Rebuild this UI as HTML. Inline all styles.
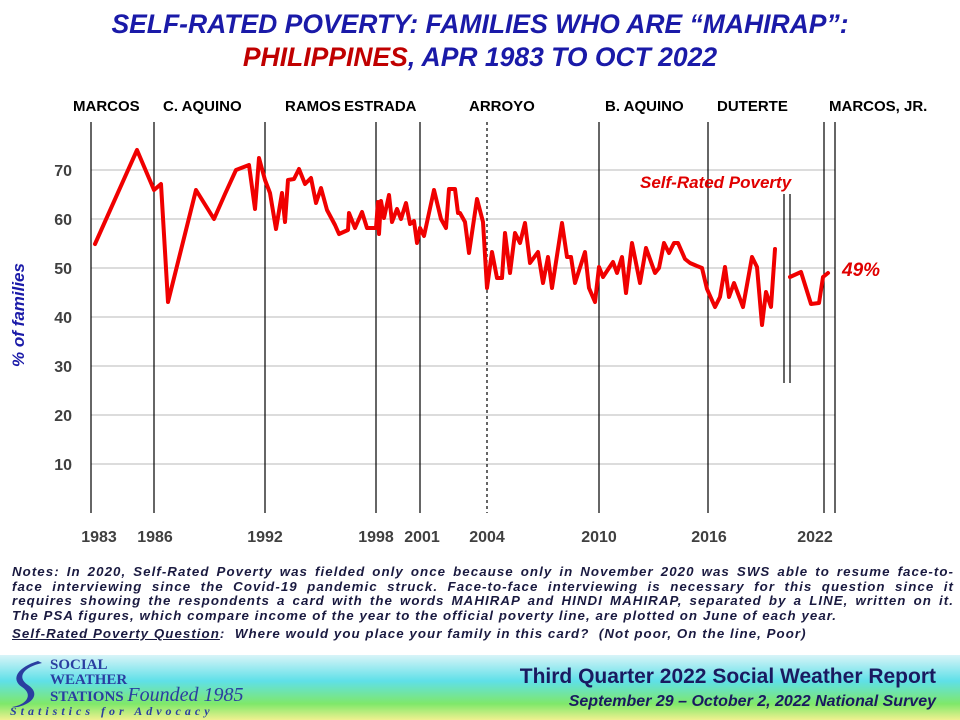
<!DOCTYPE html>
<html><head><meta charset="utf-8"><style>
body{margin:0;width:960px;height:720px;background:#fff;position:relative;overflow:hidden;font-family:"Liberation Sans",Arial,sans-serif}
.t{position:absolute;left:0;width:960px;text-align:center;font-weight:bold;font-style:italic;font-size:26.5px;color:#1a1aa8}
.era{position:absolute;top:98px;font-weight:bold;font-size:15px;color:#000}
.notes{position:absolute;left:12px;top:565px;width:942px;font-size:13.3px;letter-spacing:1.05px;font-weight:bold;font-style:italic;color:#1a1a40;line-height:14.5px}
.notes .j{display:block;white-space:nowrap;text-align:justify;text-align-last:justify}
.foot{position:absolute;left:0;top:655px;width:960px;height:65px;background:linear-gradient(#d8f4f8 0%,#5fe0e8 40%,#7fe86a 75%,#f0f090 100%)}
</style></head><body>
<div class="t" style="top:9px">SELF-RATED POVERTY: FAMILIES WHO ARE “MAHIRAP”:</div>
<div class="t" style="top:42px"><span style="color:#c00000">PHILIPPINES</span>, APR 1983 TO OCT 2022</div>
<div class="era" style="left:73px">MARCOS</div>
<div class="era" style="left:163px">C. AQUINO</div>
<div class="era" style="left:285px">RAMOS</div>
<div class="era" style="left:344px">ESTRADA</div>
<div class="era" style="left:469px">ARROYO</div>
<div class="era" style="left:605px">B. AQUINO</div>
<div class="era" style="left:717px">DUTERTE</div>
<div class="era" style="left:829px">MARCOS, JR.</div>
<svg width="960" height="560" style="position:absolute;left:0;top:0" font-family="Liberation Sans,Arial,sans-serif">
<g stroke="#d0d0d0" stroke-width="1.5">
<line x1="91" x2="835" y1="464" y2="464"/><line x1="91" x2="835" y1="415" y2="415"/><line x1="91" x2="835" y1="366" y2="366"/><line x1="91" x2="835" y1="317" y2="317"/><line x1="91" x2="835" y1="268" y2="268"/><line x1="91" x2="835" y1="219" y2="219"/><line x1="91" x2="835" y1="170" y2="170"/>
</g>
<g stroke="#000" stroke-width="1.2">
<line x1="91" x2="91" y1="122" y2="513"/><line x1="154" x2="154" y1="122" y2="513"/><line x1="265" x2="265" y1="122" y2="513"/><line x1="376" x2="376" y1="122" y2="513"/><line x1="420" x2="420" y1="122" y2="513"/><line x1="599" x2="599" y1="122" y2="513"/><line x1="708" x2="708" y1="122" y2="513"/><line x1="824" x2="824" y1="122" y2="513"/><line x1="835" x2="835" y1="122" y2="513"/>
<line x1="487" x2="487" y1="122" y2="513" stroke-dasharray="3,3"/>
<line x1="784" x2="784" y1="194" y2="383"/><line x1="790" x2="790" y1="194" y2="383"/>
</g>
<g font-size="16" font-weight="bold" fill="#404040" text-anchor="end">
<text x="72" y="470">10</text><text x="72" y="421">20</text><text x="72" y="372">30</text><text x="72" y="323">40</text><text x="72" y="274">50</text><text x="72" y="225">60</text><text x="72" y="176">70</text>
</g>
<g font-size="16" font-weight="bold" fill="#404040" text-anchor="middle">
<text x="99" y="542">1983</text><text x="155" y="542">1986</text><text x="265" y="542">1992</text><text x="376" y="542">1998</text><text x="422" y="542">2001</text><text x="487" y="542">2004</text><text x="599" y="542">2010</text><text x="709" y="542">2016</text><text x="815" y="542">2022</text>
</g>
<text transform="translate(24,315) rotate(-90)" text-anchor="middle" font-size="17" font-weight="bold" font-style="italic" fill="#1a1aa8">% of families</text>
<text x="640" y="188" font-size="17" font-weight="bold" font-style="italic" fill="#e00000">Self-Rated Poverty</text>
<text x="842" y="276" font-size="19" font-weight="bold" font-style="italic" fill="#e00000">49%</text>
<g fill="none" stroke="#f00000" stroke-width="4" stroke-linejoin="round" stroke-linecap="round">
<polyline points="95,244 137,150 154,190 161,184 168,302 196,190 214,219 225,194 236,170 249,165 255,209 259,158 265,180 270,193 276,229 282,193 285,222 288,180 294,179 299,169 305,184 311,178 316,203 321,188 327,210 335,225 339,234 348,230 349,213 355,228 362,212 367,228 373,228 376,228 378,202 379,234 381,201 384,218 389,195 392,222 397,209 401,219 406,203 410,224 414,221 417,243 420,228 424,236 434,190 441,219 446,228 449,189 455,189 458,213 460,213 465,222 469,253 477,199 483,222 487,288 492,252 497,278 502,278 505,233 510,273 515,233 520,243 525,223 530,263 538,252 543,283 548,257 552,288 562,223 567,257 571,257 575,283 585,252 589,288 595,302 599,267 603,277 613,262 617,273 622,257 626,293 632,243 640,283 646,248 655,273 659,268 664,243 669,253 674,243 678,243 685,259 690,263 697,266 702,268 707,289 715,307 720,297 725,267 729,297 734,283 743,307 752,257 757,267 762,325 766,292 771,307 775,249"/>
<polyline points="790,277 801,272 811,304 819,303 823,277 828,273"/>
</g>
</svg>
<div class="notes">
<span class="j">Notes: In 2020, Self-Rated Poverty was fielded only once because only in November 2020 was SWS able to resume face-to-</span>
<span class="j">face interviewing since the Covid-19 pandemic struck. Face-to-face interviewing is necessary for this question since it</span>
<span class="j">requires showing the respondents a card with the words MAHIRAP and HINDI MAHIRAP, separated by a LINE, written on it.</span>
<span style="display:block;white-space:nowrap">The PSA figures, which compare income of the year to the official poverty line, are plotted on June of each year.</span>
<span style="display:block;white-space:nowrap;margin-top:4px"><u>Self-Rated Poverty Question</u>:&nbsp; Where would you place your family in this card?&nbsp; (Not poor, On the line, Poor)</span></div>
<div class="foot">
<svg width="40" height="50" style="position:absolute;left:8px;top:4px"><path d="M30 2 C10 8 2 20 14 28 C26 36 18 46 4 48 L10 48 C26 44 32 34 20 26 C8 18 16 8 34 4 Z" fill="#2a3ea0"/></svg>
<div style="position:absolute;left:50px;top:3px;font-family:'Liberation Serif',serif;font-weight:bold;font-size:15px;line-height:15px;color:#2a3ea0">SOCIAL<br>WEATHER<br>STATIONS <i style="font-weight:normal;font-size:20px">Founded 1985</i></div>
<div style="position:absolute;left:10px;top:49px;font-family:'Liberation Serif',serif;font-style:italic;font-weight:bold;font-size:12px;letter-spacing:4px;color:#2a3ea0">Statistics for Advocacy</div>
<div style="position:absolute;right:24px;top:10px;font-weight:bold;font-size:21px;color:#1a1a60">Third Quarter 2022 Social Weather Report</div>
<div style="position:absolute;right:24px;top:38px;font-weight:bold;font-style:italic;font-size:16px;color:#1a1a60">September 29 – October 2, 2022 National Survey</div>
</div>
</body></html>
